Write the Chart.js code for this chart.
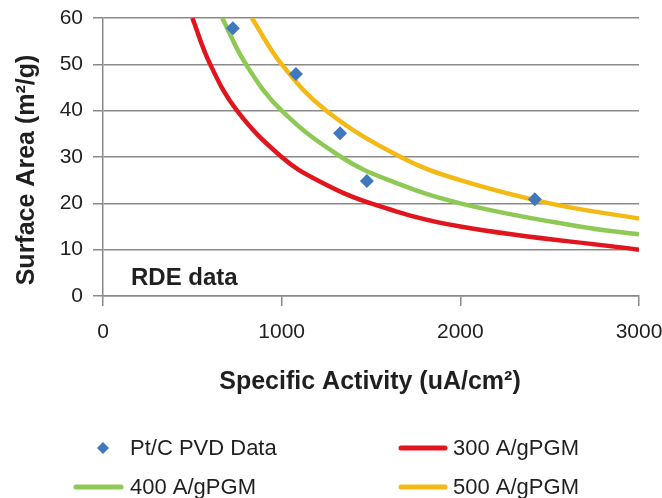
<!DOCTYPE html>
<html>
<head>
<meta charset="utf-8">
<script src="https://cdn.jsdelivr.net/npm/chart.js@4.4.1/dist/chart.umd.min.js"></script>
<style>
  html, body { margin: 0; padding: 0; background: #ffffff; }
  #wrap { position: relative; width: 662px; height: 498px; }
</style>
</head>
<body>
<div id="wrap"><canvas id="c" width="662" height="498"></canvas></div>
<script>
// ---- data ----
const xTicks = [0, 1000, 2000, 3000];
const yTicks = [0, 10, 20, 30, 40, 50, 60];

const seriesLabels = ['Pt/C PVD Data', '300 A/gPGM', '400 A/gPGM', '500 A/gPGM'];

const pvdActivity = [727, 1080, 1327, 1477, 2417];
const pvdArea     = [57.8, 47.9, 35.1, 24.8, 20.9];

const act300  = [500, 600, 750, 1000, 1200, 1500, 2000, 3000];
const area300 = [60, 50, 40, 30, 25, 20, 15, 10];

const act400  = [667, 800, 1000, 1333, 1600, 2000, 2667, 3000];
const area400 = [60, 50, 40, 30, 25, 20, 15, 13.3];

const act500  = [833, 1000, 1250, 1667, 2000, 2500, 3000];
const area500 = [60, 50, 40, 30, 25, 20, 16.7];

const xTitle = 'Specific Activity (uA/cm\u00B2)';
const yTitle = 'Surface Area (m\u00B2/g)';
const noteText = 'RDE data';

// ---- styles ----
const FONT = '"Liberation Sans", Arial, Helvetica, sans-serif';
const colors = { pvd: '#4077bd', c300: '#e0151d', c400: '#8fc955', c500: '#f4b914' };
const GRID = '#8a8a8a';

function pts(xs, ys) { return xs.map((x, i) => ({ x: x, y: ys[i] })); }

Chart.defaults.font.family = FONT;

const overlay = {
  id: 'overlay',
  afterDraw(chart) {
    const ctx = chart.ctx;
    ctx.save();
    ctx.fillStyle = '#1f1f1f';
    ctx.textBaseline = 'middle';
    // axis titles
    ctx.font = 'bold 25px ' + FONT;
    ctx.textAlign = 'center';
    ctx.fillText(xTitle, 370, 382);
    ctx.save();
    ctx.translate(27, 170);
    ctx.rotate(-Math.PI / 2);
    ctx.fillText(yTitle, 0, 0);
    ctx.restore();
    // note inside plot
    ctx.font = 'bold 24px ' + FONT;
    ctx.textAlign = 'left';
    ctx.fillText(noteText, 131, 278);
    // legend
    const ds = chart.data.datasets;
    ctx.font = '22px ' + FONT;
    const items = [
      { i: 0, type: 'pt',   sx: 103, tx: 130, y: 448 },
      { i: 1, type: 'line', sx0: 401, sx1: 445, tx: 453, y: 448 },
      { i: 2, type: 'line', sx0: 76,  sx1: 121, tx: 130, y: 487 },
      { i: 3, type: 'line', sx0: 401, sx1: 445, tx: 453, y: 487 }
    ];
    items.forEach(it => {
      const d = ds[it.i];
      if (it.type === 'pt') {
        ctx.fillStyle = d.backgroundColor;
        ctx.beginPath();
        const r = 6;
        ctx.moveTo(it.sx, it.y - r);
        ctx.lineTo(it.sx + r, it.y);
        ctx.lineTo(it.sx, it.y + r);
        ctx.lineTo(it.sx - r, it.y);
        ctx.closePath();
        ctx.fill();
      } else {
        ctx.strokeStyle = d.borderColor;
        ctx.lineWidth = 5;
        ctx.lineCap = 'round';
        ctx.beginPath();
        ctx.moveTo(it.sx0, it.y);
        ctx.lineTo(it.sx1, it.y);
        ctx.stroke();
      }
      ctx.fillStyle = '#1f1f1f';
      ctx.fillText(d.label, it.tx, it.y + 1);
    });
    ctx.restore();
  }
};

const lineDs = (label, xs, ys, color) => ({
  label: label,
  data: pts(xs, ys),
  showLine: true,
  borderColor: color,
  backgroundColor: color,
  borderWidth: 4.5,
  pointRadius: 0,
  pointHoverRadius: 0,
  tension: 0.4,
  fill: false
});

new Chart(document.getElementById('c'), {
  type: 'scatter',
  data: {
    datasets: [
      {
        label: seriesLabels[0],
        data: pts(pvdActivity, pvdArea),
        pointStyle: 'rectRot',
        pointRadius: 7,
        pointBorderWidth: 0,
        borderWidth: 0,
        backgroundColor: colors.pvd,
        borderColor: colors.pvd,
        showLine: false
      },
      lineDs(seriesLabels[1], act300, area300, colors.c300),
      lineDs(seriesLabels[2], act400, area400, colors.c400),
      lineDs(seriesLabels[3], act500, area500, colors.c500)
    ]
  },
  options: {
    responsive: false,
    animation: false,
    devicePixelRatio: 1,
    layout: { padding: { left: 0, top: 18, right: 23, bottom: 152 } },
    plugins: { legend: { display: false }, tooltip: { enabled: false } },
    scales: {
      x: {
        type: 'linear',
        min: 0, max: 3000,
        afterBuildTicks: s => { s.ticks = xTicks.map(v => ({ value: v })); },
        afterFit: s => { s.height = 50; s.paddingLeft = 0; s.paddingRight = 0; },
        ticks: { font: { size: 21 }, color: '#1f1f1f', padding: 14, maxRotation: 0,
                 callback: v => String(v) },
        grid: { drawOnChartArea: false, drawTicks: true, tickLength: 10, color: GRID, lineWidth: 1.5 },
        border: { display: true, color: GRID, width: 1.5 }
      },
      y: {
        type: 'linear',
        min: 0, max: 60,
        afterBuildTicks: s => { s.ticks = yTicks.map(v => ({ value: v })); },
        afterFit: s => { s.width = 103; s.paddingTop = 0; s.paddingBottom = 0; },
        ticks: { font: { size: 21 }, color: '#1f1f1f', padding: 10, callback: v => String(v) },
        grid: { color: GRID, lineWidth: 1.5, tickLength: 10, drawTicks: true },
        border: { display: true, color: GRID, width: 1.5 }
      }
    }
  },
  plugins: [overlay]
});
</script>
</body>
</html>
